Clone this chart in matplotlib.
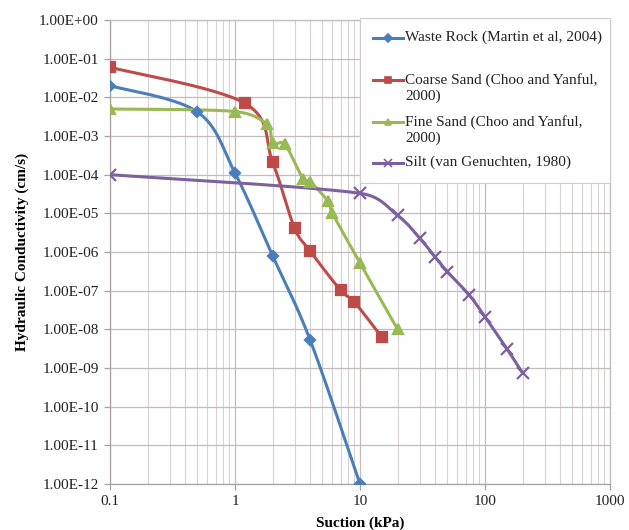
import numpy as np
import matplotlib.pyplot as plt
from matplotlib.lines import Line2D
from matplotlib.ticker import FixedLocator, FuncFormatter, LogLocator, NullFormatter

plt.rcParams['font.family'] = ['Liberation Serif', 'DejaVu Serif']

# data (suction kPa, conductivity cm/s)
waste_x = [0.1, 0.5, 1.0, 2.0, 4.0, 10.0]
waste_y = [2e-2, 4.2e-3, 1.1e-4, 8e-7, 5.2e-9, 1e-12]

coarse_x = [0.1, 1.2, 2.0, 3.0, 4.0, 7.0, 9.0, 15.0]
coarse_y = [6e-2, 7e-3, 2.1e-4, 4.1e-6, 1.05e-6, 1.02e-7, 5.1e-8, 6.2e-9]

fine_x = [0.1, 1.0, 1.8, 2.0, 2.5, 3.5, 4.0, 5.5, 6.0, 10.0, 20.0]
fine_y = [5e-3, 4.3e-3, 2e-3, 6.5e-4, 6.2e-4, 7.7e-5, 6.6e-5, 2.1e-5, 1.02e-5, 5.2e-7, 1e-8]

silt_x = [0.1, 10.0, 20.0, 30.0, 40.0, 50.0, 75.0, 100.0, 150.0, 200.0]
silt_y = [1e-4, 3.3e-5, 8.8e-6, 2.3e-6, 7.3e-7, 3.1e-7, 7.6e-8, 2.1e-8, 3.1e-9, 7.4e-10]

labels = ["Waste Rock (Martin et al, 2004)",
          "Coarse Sand (Choo and Yanful,\n2000)",
          "Fine Sand (Choo and Yanful,\n2000)",
          "Silt (van Genuchten, 1980)"]
colors = ["#4a7ebb", "#be4b48", "#98b954", "#7d60a0"]
markers = ["D", "s", "^", "x"]
msizes = [5.5, 7, 7, 8]

# pixels per decade on screen, smoothing is done in screen space like excel
XDEC, YDEC = 125.0, 38.67


def _ctrl(v, L, kmax):
    n = np.hypot(*v)
    if n > kmax * L:
        v = v * (kmax * L / n)
    return v


def smooth(x, y, n=30, kmax=0.5):
    P = np.column_stack([np.log10(x) * XDEC, np.log10(y) * YDEC])
    N = len(P)
    out = [P[0]]
    t = np.linspace(0, 1, n)[1:, None]
    for i in range(N - 1):
        L = np.hypot(*(P[i + 1] - P[i]))
        d1 = (P[i + 1] - P[max(i - 1, 0)]) / 6
        d2 = (P[min(i + 2, N - 1)] - P[i]) / 6
        c1 = P[i] + _ctrl(d1, L, kmax)
        c2 = P[i + 1] - _ctrl(d2, L, kmax)
        seg = ((1 - t) ** 3 * P[i] + 3 * (1 - t) ** 2 * t * c1
               + 3 * (1 - t) * t ** 2 * c2 + t ** 3 * P[i + 1])
        out.extend(seg)
    out = np.array(out)
    return 10 ** (out[:, 0] / XDEC), 10 ** (out[:, 1] / YDEC)


fig = plt.figure(figsize=(6.29, 5.30), dpi=100)
ax = fig.add_axes([110 / 629, 1 - 484 / 530, 500 / 629, 464 / 530])

series = [(waste_x, waste_y), (coarse_x, coarse_y), (fine_x, fine_y), (silt_x, silt_y)]
for (xs, ys), c, m, ms in zip(series, colors, markers, msizes):
    sx, sy = smooth(xs, ys)
    ax.plot(sx, sy, color=c, lw=2.2, zorder=3)
    ax.plot(xs, ys, ls='none', marker=m, ms=ms, color=c, mec=c, mew=1.6, zorder=4)

ax.set_xscale('log')
ax.set_yscale('log')
ax.set_xlim(0.1, 1000)
ax.set_ylim(1e-12, 1)

ax.xaxis.set_major_locator(FixedLocator([0.1, 1, 10, 100, 1000]))
ax.xaxis.set_major_formatter(FuncFormatter(lambda v, p: f"{v:g}"))
ax.xaxis.set_minor_locator(LogLocator(base=10, subs=np.arange(2, 10), numticks=20))
ax.xaxis.set_minor_formatter(NullFormatter())
ax.yaxis.set_major_locator(FixedLocator([10.0 ** k for k in range(-12, 1)]))
ax.yaxis.set_major_formatter(FuncFormatter(lambda v, p: f"{v:.2E}"))
ax.yaxis.set_minor_locator(FixedLocator([]))

ax.grid(True, which='major', axis='both', color='#c4bcbc', lw=0.9)
ax.grid(True, which='minor', axis='x', color='#d8d2d2', lw=0.8)
ax.set_axisbelow(True)
ax.tick_params(which='major', direction='out', length=4, width=0.9, color='#a8a0a0',
               labelsize=11, labelcolor='#222222', pad=4)
ax.tick_params(which='minor', length=0)
for s in ['top', 'right']:
    ax.spines[s].set_color('#c4bcbc')
    ax.spines[s].set_linewidth(0.9)
for s in ['left', 'bottom']:
    ax.spines[s].set_color('#a8a0a0')
    ax.spines[s].set_linewidth(0.9)

ax.set_xlabel("Suction (kPa)", fontsize=11, fontweight='bold')
ax.set_ylabel("Hydraulic Conductivity (cm/s)", fontsize=11, fontweight='bold')
ax.xaxis.set_label_coords(0.5, -0.071)
ax.yaxis.set_label_coords(-0.162, 0.5)

# legend drawn by hand to keep the excel layout
def px(xp, yp):
    return (xp - 110) / 500, (484 - yp) / 464

lx0, ly0 = px(360, 183)
lx1, ly1 = px(610, 18)
ax.add_patch(plt.Rectangle((lx0, ly0), lx1 - lx0, ly1 - ly0, transform=ax.transAxes,
                           facecolor='white', edgecolor='#d0caca', lw=0.8, zorder=5,
                           clip_on=False))
rows = [38, 80, 122, 163]
for lab, c, m, ms, yp in zip(labels, colors, markers, msizes, rows):
    a, b = px(373, yp)
    a2, _ = px(403, yp)
    am, _ = px(388, yp)
    ax.add_line(Line2D([a, a2], [b, b], transform=ax.transAxes, color=c, lw=2.2,
                       zorder=6, clip_on=False))
    ax.add_line(Line2D([am], [b], transform=ax.transAxes, color=c, marker=m,
                       ms=ms * 0.7, mew=1.2, zorder=7, clip_on=False))
    tx, ty = px(405, yp - 7)
    ax.text(tx, ty, lab, transform=ax.transAxes, fontsize=11, va='top', ha='left',
            color='#222222', linespacing=1.25, zorder=7)

fig.savefig("out.png", dpi=100, facecolor='white')
